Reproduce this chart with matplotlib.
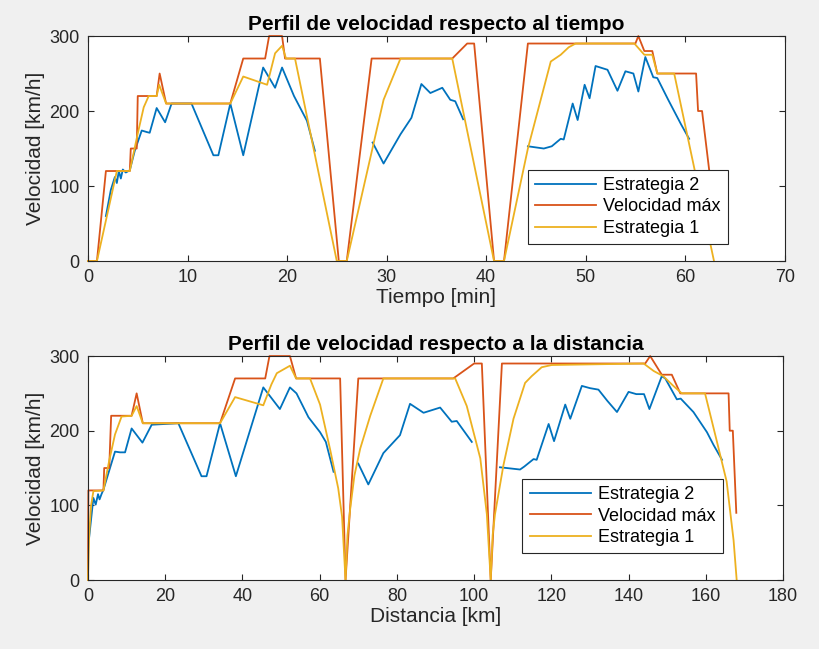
import numpy as np
import matplotlib
matplotlib.use('Agg')
import matplotlib.pyplot as plt

plt.rcParams['font.family'] = ['Liberation Sans', 'DejaVu Sans']

# colores por defecto de MATLAB
c_e2 = '#0072BD'
c_max = '#D95319'
c_e1 = '#EDB120'

nan = np.nan

# ---------- perfil respecto al tiempo [min] ----------
t_e2 = [1.8, 2.3, 2.7, 2.9, 3.1, 3.3, 3.5, 3.8, 4.2, 4.7, 5.4, 5.9, 6.2, 6.9, 7.75, 8.4,
        10.4, 12.6, 13.1, 14.3, 15.6, 17.6, 18.8, 19.5, 20.7, 22.0, 22.8, nan,
        28.6, 29.7, 31.4, 32.5, 33.5, 34.4, 35.6, 36.4, 36.9, 37.7, nan,
        44.2, 45.8, 46.6, 47.5, 47.8, 48.7, 49.2, 49.9, 50.4, 51.0, 52.2, 53.2, 54.0,
        54.8, 55.3, 56.0, 56.8, 57.2, 58.3, 59.6, 60.4]
v_e2_t = [60, 95, 112, 104, 120, 110, 122, 118, 121, 147, 174, 172, 171, 204, 185, 210,
          210, 141, 141, 210, 141, 258, 231, 258, 220, 187, 147, nan,
          158, 130, 169, 191, 236, 224, 231, 215, 213, 189, nan,
          153, 150, 153, 163, 162, 210, 188, 235, 217, 260, 255, 227, 253,
          250, 226, 272, 245, 244, 215, 182, 163]

t_max = [0, 0.9, 1.8, 4.2, 4.3, 4.9, 5.0, 6.9, 7.2, 7.85, 14.3, 15.6, 17.8, 18.2, 19.5,
         19.8, 23.3, 25.2, 26.0, 28.5, 36.6, 38.1, 38.8, 40.8, 41.8, 44.2, 55.0, 55.3,
         55.9, 56.7, 57.2, 61.1, 61.3, 61.7, 62.7]
v_max_t = [0, 0, 120, 120, 150, 150, 220, 220, 250, 210, 210, 270, 270, 300, 300,
           270, 270, 0, 0, 270, 270, 290, 290, 0, 0, 290, 290, 300,
           280, 280, 250, 250, 200, 200, 90]

t_e1 = [0, 0.9, 2.9, 4.2, 5.0, 5.6, 6.1, 6.9, 7.15, 7.85, 14.3, 15.6, 18.0, 18.8, 19.5,
        19.9, 20.8, 25.0, 26.0, 29.7, 31.4, 36.6, 40.8, 41.8, 44.2, 46.5, 47.5, 48.3,
        49.0, 54.9, 55.9, 56.7, 57.2, 58.9, 62.9]
v_e1_t = [0, 0, 120, 120, 170, 205, 220, 220, 235, 210, 210, 246, 235, 277, 287,
          270, 270, 0, 0, 215, 270, 270, 0, 0, 150, 266, 275, 285,
          290, 290, 275, 275, 250, 250, 0]

# ---------- perfil respecto a la distancia [km] ----------
d_e2 = [0.3, 1.4, 2.0, 2.6, 3.0, 3.5, 4.0, 5.7, 7.0, 8.3, 9.6, 11.3, 14.1, 16.5, 23.4,
        29.4, 30.7, 34.2, 38.3, 45.4, 49.7, 52.3, 54.0, 57.1, 60.1, 61.6, 63.6, nan,
        70.0, 72.6, 76.5, 80.8, 83.4, 86.9, 91.2, 94.2, 95.5, 99.4, nan,
        106.7, 111.9, 113.0, 115.4, 116.2, 119.3, 120.7, 123.6, 124.9, 127.9, 130.0,
        132.2, 134.5, 137.0, 140.0, 142.0, 144.0, 145.4, 148.6, 149.5, 152.5, 153.5,
        156.8, 160.3, 162.0, 164.2]
v_e2_d = [57, 110, 101, 115, 108, 115, 121, 150, 172, 171, 171, 203, 184, 208, 210,
          139, 139, 210, 139, 258, 229, 258, 250, 218, 198, 185, 145, nan,
          156, 128, 170, 194, 236, 224, 231, 212, 213, 185, nan,
          151, 148, 152, 162, 161, 209, 186, 235, 216, 260, 257,
          255, 240, 225, 252, 249, 249, 229, 273, 270, 242, 243,
          225, 198, 181, 161]

d_max = [0, 0.1, 4.0, 4.2, 5.5, 6.0, 11.3, 12.6, 14.2, 34.2, 38.1, 45.9, 47.0, 52.3,
         53.9, 65.3, 66.7, 70.0, 94.6, 100.0, 102.0, 104.3, 107.2, 144.3, 145.6, 148.6,
         151.2, 153.4, 165.9, 166.2, 167.0, 167.9]
v_max_d = [0, 120, 120, 150, 150, 220, 220, 250, 210, 210, 270, 270, 300, 300,
           270, 270, 0, 270, 270, 290, 290, 0, 290, 290, 300, 275,
           275, 250, 250, 200, 200, 90]

d_e1 = [0, 0.3, 0.8, 1.4, 4.0, 5.5, 7.0, 8.7, 11.3, 12.6, 14.2, 34.2, 38.1, 45.4, 47.5,
        48.9, 52.3, 53.9, 57.5, 60.1, 62.7, 64.8, 65.8, 66.7, 67.2, 67.9, 69.0, 70.5,
        73.1, 76.5, 95.1, 98.1, 101.6, 103.3, 104.3, 104.8, 105.4, 107.6, 110.2, 113.2,
        114.9, 117.5, 120.1, 143.9, 146.5, 149.0, 151.6, 153.8, 159.8, 162.9, 165.4,
        167.2, 168.0]
v_e1_d = [0, 60, 100, 119, 120, 160, 195, 219, 220, 233, 210, 210, 245, 234, 262,
          277, 287, 270, 270, 235, 175, 123, 85, 0, 60, 95, 140, 176,
          220, 270, 270, 233, 163, 88, 0, 60, 88, 154, 216, 264,
          273, 285, 288, 290, 280, 273, 260, 250, 250, 185, 132,
          53, 0]

labels = ['Estrategia 2', 'Velocidad máx', 'Estrategia 1']

fig = plt.figure(figsize=(8.2, 6.49), dpi=100, facecolor='#f0f0f0')
ax1 = fig.add_axes([0.1073, 0.5978, 0.8496, 0.3467])
ax2 = fig.add_axes([0.1073, 0.1063, 0.8476, 0.3451])

def style(ax, xmax, xstep, xlabel, title):
    ax.set_xlim(0, xmax)
    ax.set_ylim(0, 300)
    ax.set_xticks(np.arange(0, xmax + 1, xstep))
    ax.set_yticks([0, 100, 200, 300])
    ax.tick_params(direction='in', top=True, right=True, labelsize=13,
                   colors='#262626', length=4, width=0.8, pad=6)
    for s in ax.spines.values():
        s.set_color('#262626')
        s.set_linewidth(0.8)
    ax.set_xlabel(xlabel, fontsize=15, color='#262626', labelpad=1)
    ax.set_ylabel('Velocidad [km/h]', fontsize=15, color='#262626', labelpad=3)
    ax.set_title(title, fontsize=15, fontweight='bold', pad=4)

def draw(ax, x2, y2, xm, ym, x1, y1):
    for x, y, c in ((x2, y2, c_e2), (xm, ym, c_max), (x1, y1, c_e1)):
        ax.plot(x, y, color=c, lw=1.3, clip_on=False)
    leg = ax.legend(labels, loc='lower left', fontsize=13, handlelength=3.4,
                    handletextpad=0.4, borderpad=0.4, labelspacing=0.25,
                    fancybox=False, edgecolor='#262626', framealpha=1,
                    borderaxespad=0)
    leg.get_frame().set_linewidth(0.8)
    return leg

leg1 = draw(ax1, t_e2, v_e2_t, t_max, v_max_t, t_e1, v_e1_t)
leg1.set_bbox_to_anchor((0.631, 0.075), transform=ax1.transAxes)
style(ax1, 70, 10, 'Tiempo [min]', 'Perfil de velocidad respecto al tiempo')

leg2 = draw(ax2, d_e2, v_e2_d, d_max, v_max_d, d_e1, v_e1_d)
leg2.set_bbox_to_anchor((0.625, 0.119), transform=ax2.transAxes)
style(ax2, 180, 20, 'Distancia [km]', 'Perfil de velocidad respecto a la distancia')

fig.savefig('out.png', dpi=100, facecolor=fig.get_facecolor())
